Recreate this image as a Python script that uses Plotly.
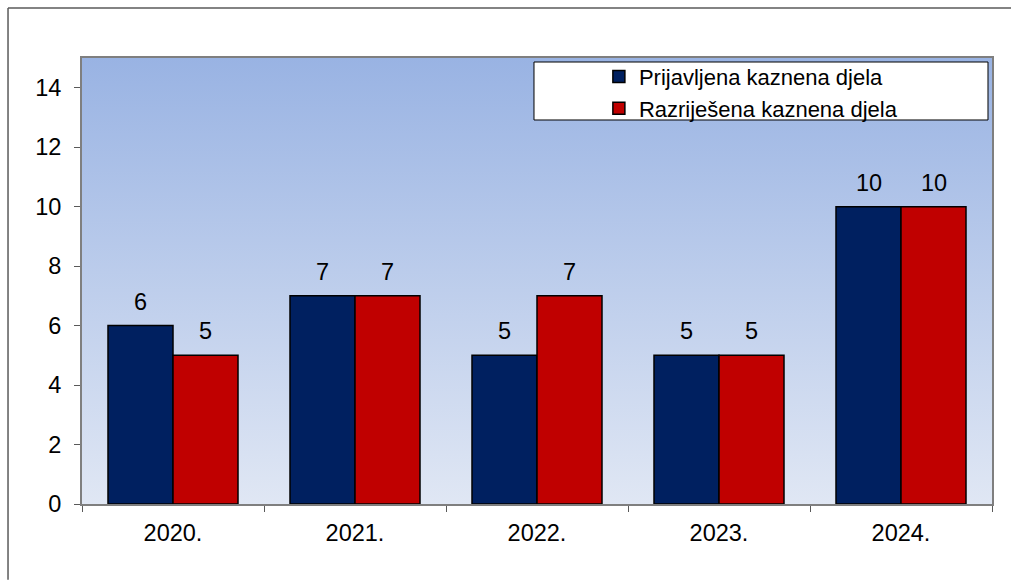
import base64
import plotly.graph_objects as go

years = ['2020.', '2021.', '2022.', '2023.', '2024.']
prijavljena = [6, 7, 5, 5, 10]
razrijesena = [5, 7, 7, 5, 10]
y_ticks = [0, 2, 4, 6, 8, 10, 12, 14]

NAVY = '#002060'
RED = '#C00000'
FONT = 'Liberation Sans, Arial, sans-serif'

# vertical blue-to-white gradient for the plot area (svg image stretched under the traces)
svg = (
    '<svg xmlns="http://www.w3.org/2000/svg" width="100" height="100" preserveAspectRatio="none">'
    '<defs><linearGradient id="g" x1="0" y1="0" x2="0" y2="1">'
    '<stop offset="0" stop-color="#99B3E3"/><stop offset="1" stop-color="#E0E7F4"/>'
    '</linearGradient></defs><rect width="100" height="100" fill="url(#g)"/></svg>'
)
bg_src = 'data:image/svg+xml;base64,' + base64.b64encode(svg.encode()).decode()

fig = go.Figure()
fig.add_trace(go.Bar(
    x=years, y=prijavljena, name='Prijavljena kaznena djela',
    marker=dict(color=NAVY, line=dict(color='black', width=1.5)),
))
fig.add_trace(go.Bar(
    x=years, y=razrijesena, name='Razriješena kaznena djela',
    marker=dict(color=RED, line=dict(color='black', width=1.5)),
))

# value labels above each bar (x given as category index)
for vals, shift in ((prijavljena, -32.5), (razrijesena, 32.5)):
    for i, v in enumerate(vals):
        fig.add_annotation(
            x=i, y=v, text=str(v), showarrow=False,
            xshift=shift, yshift=9, yanchor='bottom',
            font=dict(family=FONT, size=23.5, color='black'),
        )

fig.update_layout(
    width=1011, height=580,
    margin=dict(l=82, r=19, t=58, b=76),
    paper_bgcolor='white',
    plot_bgcolor='rgba(0,0,0,0)',
    barmode='group', bargap=0.2857, bargroupgap=0,
    font=dict(family=FONT, size=23.5, color='black'),
    showlegend=True,
    legend=dict(
        x=0.568, y=1.005, xanchor='left', yanchor='top',
        bgcolor='rgba(0,0,0,0)', borderwidth=0,
        font=dict(family=FONT, size=22, color='black'),
        tracegroupgap=0,
    ),
    images=[dict(
        source=bg_src, xref='paper', yref='paper', x=0, y=1,
        sizex=1, sizey=1, xanchor='left', yanchor='top',
        sizing='stretch', layer='below',
    )],
    shapes=[
        # legend frame
        dict(type='rect', xref='paper', yref='paper', x0=0.4967, x1=0.9956,
             y0=0.861, y1=0.991, fillcolor='white', line=dict(color='black', width=1),
             layer='above'),
        # outer chart frame (top and left edges)
        dict(type='line', xref='paper', yref='paper', x0=-0.0813, x1=1.0209,
             y0=1.1121, y1=1.1121, line=dict(color='#5a5a5a', width=1.5)),
        dict(type='line', xref='paper', yref='paper', x0=-0.0813, x1=-0.0813,
             y0=1.1121, y1=-0.17, line=dict(color='#5a5a5a', width=1.5)),
    ],
)

fig.update_xaxes(
    type='category', range=[-0.5, 4.5], tickson='boundaries', ticks='outside', ticklen=6,
    tickcolor='#595959', showline=True, linecolor='#7f7f7f', linewidth=2,
    mirror=True, showgrid=False, ticklabelstandoff=7, tickangle=0, automargin=False,
)
fig.update_yaxes(
    range=[0, 15], tickvals=y_ticks, ticks='outside', ticklen=6,
    tickcolor='#595959', showline=True, linecolor='#7f7f7f', linewidth=2,
    mirror=True, showgrid=False, zeroline=False, ticklabelstandoff=8, automargin=False,
)

fig.write_html('out.html', config={'displayModeBar': False},
               post_script="document.body.style.margin='0';")
